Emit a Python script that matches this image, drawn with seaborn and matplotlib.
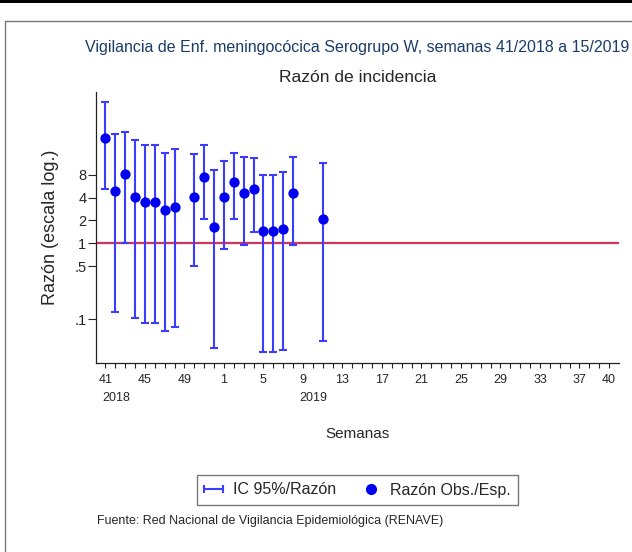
import matplotlib
matplotlib.use('Agg')
import matplotlib.pyplot as plt
import seaborn as sns
import pandas as pd
import numpy as np
from matplotlib.lines import Line2D
from matplotlib.patches import Rectangle
from matplotlib.legend_handler import HandlerLine2D

# eje de semanas: 41/2018 ... 52/2018, 1/2019 ... 40/2019
semanas_eje = list(range(41, 53)) + list(range(1, 41))
etiquetas_x = [41, 45, 49, 1, 5, 9, 13, 17, 21, 25, 29, 33, 37, 40]
etiquetas_y = [0.1, 0.5, 1, 2, 4, 8]
textos_y = ['.1', '.5', '1', '2', '4', '8']

# datos
semana = [41, 42, 43, 44, 45, 46, 47, 48, 50, 51, 52,
          1, 2, 3, 4, 5, 6, 7, 8, 11]
razon = [24.5, 4.92, 8.16, 4.06, 3.46, 3.46, 2.72, 3.03, 4.06, 7.52, 1.64,
         4.06, 6.41, 4.59, 5.13, 1.45, 1.45, 1.53, 4.59, 2.07]
ic_inf = [5.13, 0.126, 1.0, 0.104, 0.090, 0.090, 0.070, 0.0785, 0.498, 2.07, 0.0423,
          0.841, 2.11, 0.96, 1.41, 0.0368, 0.0368, 0.0394, 0.96, 0.0523]
ic_sup = [71.7, 27.7, 29.4, 22.9, 19.7, 19.7, 15.4, 17.3, 15.0, 19.5, 9.21,
          12.1, 15.3, 13.5, 13.2, 8.0, 8.0, 8.67, 13.5, 11.4]

df = pd.DataFrame({'semana': semana, 'razon': razon, 'inf': ic_inf, 'sup': ic_sup})
df['pos'] = [semanas_eje.index(s) for s in df['semana']]

sns.set_style('ticks')
plt.rcParams['font.family'] = ['Liberation Sans', 'DejaVu Sans']

azul_ic = '#3c3cff'
azul_pt = '#0000f0'
rojo = '#d4345c'

fig = plt.figure(figsize=(6.32, 5.52), dpi=100)
ax = fig.add_axes([96 / 632, 1 - 363.3 / 552, (619 - 96) / 632, (363.3 - 91.7) / 552])

ax.axhline(1, color=rojo, lw=1.6, zorder=1)
ax.errorbar(df['pos'], df['razon'],
            yerr=[df['razon'] - df['inf'], df['sup'] - df['razon']],
            fmt='none', ecolor=azul_ic, elinewidth=1.5, capsize=3, capthick=1.5, zorder=2)
sns.scatterplot(data=df, x='pos', y='razon', color=azul_pt, s=55, linewidth=0,
                zorder=3, legend=False, ax=ax)

ax.set_yscale('log')
ax.set_ylim(0.0265, 98.5)
ax.set_xlim(-0.95, 52.0)

ax.set_yticks(etiquetas_y)
ax.set_yticklabels(textos_y)
ax.yaxis.set_minor_locator(matplotlib.ticker.NullLocator())
ax.set_xticks(range(len(semanas_eje)))
ax.set_xticklabels([str(s) if s in etiquetas_x else '' for s in semanas_eje])
ax.tick_params(axis='x', length=3.5, width=0.8, pad=4, labelsize=9)
ax.tick_params(axis='y', length=6, width=0.8, pad=1, labelsize=10.5)

for anio, s in [('2018', 41), ('2019', 9)]:
    ax.annotate(anio, xy=(semanas_eje.index(s), 0), xycoords=('data', 'axes fraction'),
                xytext=(-2.4, -25), textcoords='offset points',
                ha='left', va='center', fontsize=9)

sns.despine(ax=ax)
for sp in ['left', 'bottom']:
    ax.spines[sp].set_linewidth(0.9)
    ax.spines[sp].set_color('#222222')

ax.set_ylabel('Razón (escala log.)', fontsize=13)
ax.yaxis.set_label_coords(-0.07, 0.5)
ax.set_xlabel('Semanas', fontsize=11)
ax.xaxis.set_label_coords(0.5, -0.235)

fig.text(357.5 / 632, 1 - 48 / 552,
         'Vigilancia de Enf. meningocócica Serogrupo W, semanas 41/2018 a 15/2019',
         ha='center', va='center', fontsize=11.55, color='#1a3c6c')
fig.text(358 / 632, 1 - 77 / 552, 'Razón de incidencia',
         ha='center', va='center', fontsize=12.6)

h_ic = Line2D([], [], color=azul_ic, lw=1.5, marker='|', markersize=6, markeredgewidth=1.5)
h_pt = Line2D([], [], ls='none', marker='o', color=azul_pt, markersize=7)
leg = fig.legend([h_ic, h_pt], ['IC 95%/Razón', 'Razón Obs./Esp.'],
                 handler_map={h_ic: HandlerLine2D(numpoints=2, marker_pad=0.0)},
                 loc='center', bbox_to_anchor=(357.5 / 632, 1 - 490 / 552),
                 ncol=2, fontsize=11.5, frameon=True, fancybox=False,
                 handlelength=1.2, handletextpad=0.6, columnspacing=1.6,
                 borderpad=0.45)
leg.get_frame().set_edgecolor('#555555')
leg.get_frame().set_linewidth(1.0)

fig.text(97 / 632, 1 - 521 / 552,
         'Fuente: Red Nacional de Vigilancia Epidemiológica (RENAVE)',
         ha='left', va='center', fontsize=9)

# marco exterior
fig.add_artist(Rectangle((0, 1 - 3.3 / 552), 1, 3.3 / 552, transform=fig.transFigure,
                         facecolor='black', edgecolor='none'))
fig.add_artist(Line2D([5 / 632, 5 / 632], [0, 1 - 21 / 552], transform=fig.transFigure,
                      color='#777777', lw=1))
fig.add_artist(Line2D([5 / 632, 1], [1 - 21 / 552, 1 - 21 / 552], transform=fig.transFigure,
                      color='#777777', lw=1))

fig.savefig('out.png', dpi=100)
